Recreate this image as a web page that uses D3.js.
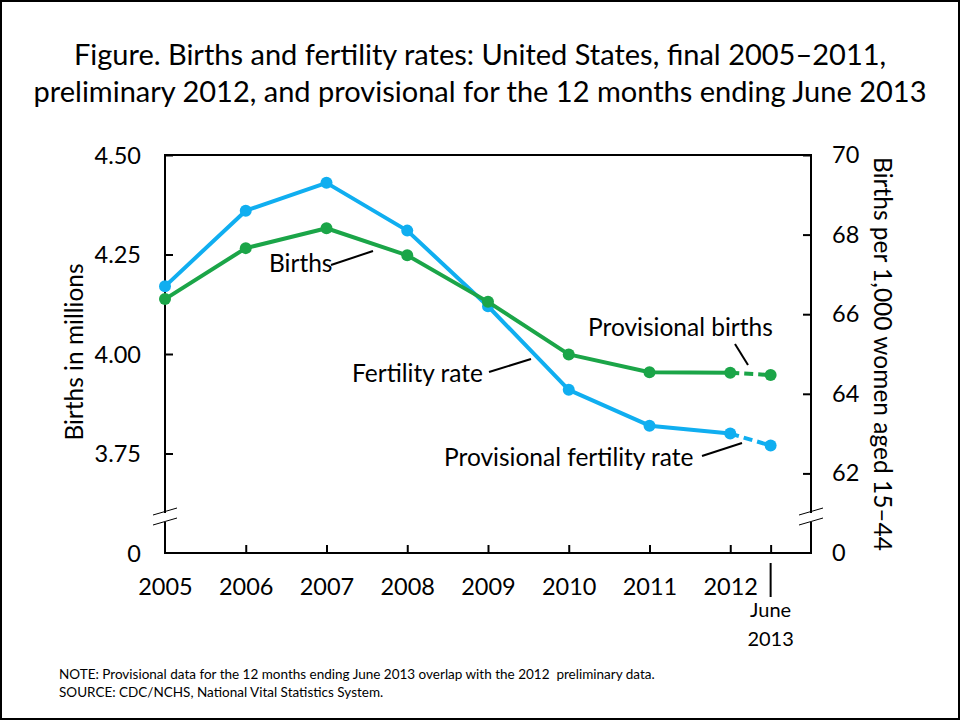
<!DOCTYPE html>
<html>
<head>
<meta charset="utf-8">
<script src="https://cdn.jsdelivr.net/npm/d3@7"></script>
<style>
  body { margin: 0; background: #fff; }
  svg text { font-family: Lato, "Open Sans", sans-serif; fill: #000; }
</style>
</head>
<body>
<svg id="chart" width="960" height="720"></svg>
<script>
// data
const years = [2005, 2006, 2007, 2008, 2009, 2010, 2011, 2012];
const births = [4.138, 4.266, 4.316, 4.248, 4.131, 3.999, 3.954, 3.953];       // millions
const fertility = [66.7, 68.6, 69.3, 68.1, 66.2, 64.1, 63.2, 63.0];          // per 1,000 women
const provYear = 2012.5;               // 12 months ending June 2013
const provBirths = 3.947;
const provFertility = 62.7;
const leftTicks = [3.5, 3.75, 4.0, 4.25, 4.5];
const rightTicks = [60, 62, 64, 66, 68, 70];

const svg = d3.select('#chart');
const width = 960, height = 720;
const margin = { top: 155, right: 149, bottom: 167, left: 165 };
const green = '#1ba548', blue = '#10aef0';

// outer frame
svg.append('rect')
    .attr('x', 1).attr('y', 1)
    .attr('width', width - 2).attr('height', height - 2)
    .attr('fill', 'none').attr('stroke', '#000').attr('stroke-width', 2);

const title = svg.append('text')
    .attr('text-anchor', 'middle')
    .style('font-size', '29px');
title.append('tspan').attr('x', 480).attr('y', 65)
    .text('Figure. Births and fertility rates: United States, final 2005\u20132011,');
title.append('tspan').attr('x', 480).attr('y', 102)
    .text('preliminary 2012, and provisional for the 12 months ending June 2013');

const x = d3.scaleLinear()
    .domain([2005, 2013])
    .range([margin.left, width - margin.right]);
const yL = d3.scaleLinear()
    .domain([3.5, 4.5])
    .range([height - margin.bottom, margin.top]);
const yR = d3.scaleLinear()
    .domain([60, 70])
    .range([height - margin.bottom, margin.top]);

const x0 = x.range()[0], x1 = x.range()[1];
const yBot = yL.range()[0], yTop = yL.range()[1];
const brk = 517;

const leftAxis = d3.axisLeft(yL)
    .tickValues(leftTicks)
    .tickSizeInner(-8).tickSizeOuter(0).tickPadding(24)
    .tickFormat(d => d === 3.5 ? '0' : d3.format('.2f')(d));
const rightAxis = d3.axisRight(yR)
    .tickValues(rightTicks)
    .tickSizeInner(-8).tickSizeOuter(0).tickPadding(21)
    .tickFormat(d => d === 60 ? '0' : d);
const bottomAxis = d3.axisBottom(x)
    .tickValues(years.concat([provYear]))
    .tickSizeInner(-8).tickSizeOuter(0).tickPadding(25)
    .tickFormat(d => d === provYear ? '' : d);

function styleAxis(g) {
    g.select('.domain').remove();
    g.selectAll('.tick line').attr('stroke', '#000').attr('stroke-width', 2);
    g.selectAll('.tick text').style('font-size', '23.5px').attr('fill', '#000');
}

svg.append('g')
    .attr('transform', `translate(${x0},0)`)
    .call(leftAxis).call(styleAxis)
    .call(g => g.selectAll('.tick').filter(d => d === 3.5).select('line').remove())
    .call(g => g.selectAll('.tick text').attr('dy', '0.36em'));
svg.append('g')
    .attr('transform', `translate(${x1},0)`)
    .call(rightAxis).call(styleAxis)
    .call(g => g.selectAll('.tick').filter(d => d === 60).select('line').remove());
svg.append('g')
    .attr('transform', `translate(0,${yBot})`)
    .call(bottomAxis).call(styleAxis)
    .call(g => g.selectAll('.tick').filter(d => d === 2005).select('line').remove());

// axis lines with breaks
const frame = svg.append('g').attr('stroke', '#000').attr('fill', 'none').attr('stroke-width', 2);
frame.append('path')
    .attr('d', `M${x0},${brk - 4}V${yTop}H${x1}V${brk - 4}M${x1},${brk + 5}V${yBot}H${x0}V${brk + 5}`);
[x0, x1].forEach(ax => {
    [-5, 5].forEach(off => {
        frame.append('line')
            .attr('x1', ax - 12).attr('y1', brk + off + 3)
            .attr('x2', ax + 12).attr('y2', brk + off - 4)
            .attr('stroke-width', 1);
    });
});

// June 2013 label
svg.append('line')
    .attr('x1', x(provYear)).attr('x2', x(provYear))
    .attr('y1', yBot + 10).attr('y2', yBot + 44)
    .attr('stroke', '#000').attr('stroke-width', 2);
svg.append('text').attr('x', x(provYear)).attr('y', 617)
    .attr('text-anchor', 'middle').style('font-size', '20px').text('June');
svg.append('text').attr('x', x(provYear)).attr('y', 646)
    .attr('text-anchor', 'middle').style('font-size', '20px').text('2013');

// axis titles
svg.append('text')
    .attr('transform', `translate(83,${(yTop + yBot) / 2 - 2}) rotate(-90)`)
    .attr('text-anchor', 'middle').style('font-size', '24.5px')
    .text('Births in millions');
svg.append('text')
    .attr('transform', `translate(874,${(yTop + yBot) / 2}) rotate(90)`)
    .attr('text-anchor', 'middle').style('font-size', '24.5px')
    .text('Births per 1,000 women aged 15\u201344');

// series
function drawSeries(vals, prov, y, color) {
    const pts = years.map((yr, i) => [x(yr), y(vals[i])]);
    const last = pts[pts.length - 1];
    const pp = [x(provYear), y(prov)];
    svg.append('path')
        .attr('d', d3.line()(pts))
        .attr('fill', 'none').attr('stroke', color).attr('stroke-width', 4)
        .attr('stroke-linejoin', 'round');
    svg.append('path')
        .attr('d', d3.line()([last, pp]))
        .attr('fill', 'none').attr('stroke', color).attr('stroke-width', 4)
        .attr('stroke-dasharray', '9,5');
    svg.append('g').selectAll('circle')
        .data(pts.concat([pp]))
        .join('circle')
        .attr('cx', d => d[0]).attr('cy', d => d[1])
        .attr('r', 6).attr('fill', color);
}
drawSeries(fertility, provFertility, yR, blue);
drawSeries(births, provBirths, yL, green);

// annotations
const notes = [
    { t: 'Births', tx: 269, ty: 272, l: [331, 265, 373, 251] },
    { t: 'Fertility rate', tx: 352, ty: 382, l: [489, 372, 531, 359] },
    { t: 'Provisional births', tx: 588, ty: 336, l: [735, 344, 748, 365] },
    { t: 'Provisional fertility rate', tx: 444, ty: 466, l: [702, 456, 742, 443] }
];
notes.forEach(n => {
    svg.append('text').attr('x', n.tx).attr('y', n.ty)
        .style('font-size', '24.5px').text(n.t);
    svg.append('line')
        .attr('x1', n.l[0]).attr('y1', n.l[1]).attr('x2', n.l[2]).attr('y2', n.l[3])
        .attr('stroke', '#000').attr('stroke-width', 2);
});

// footnotes
svg.append('text').attr('x', 59).attr('y', 679).style('font-size', '13.5px')
    .style('white-space', 'pre')
    .text('NOTE: Provisional data for the 12 months ending June 2013 overlap with the 2012  preliminary data.');
svg.append('text').attr('x', 59).attr('y', 697).style('font-size', '13.5px')
    .text('SOURCE: CDC/NCHS, National Vital Statistics System.');
</script>
</body>
</html>
